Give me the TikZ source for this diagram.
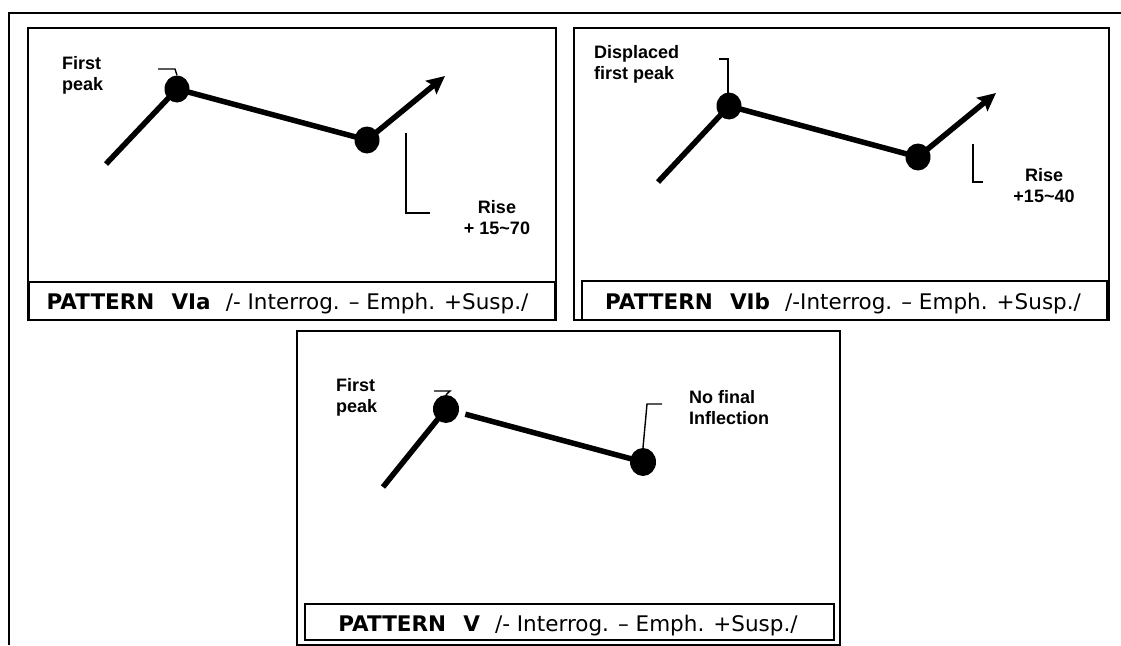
\documentclass[tikz,border=0pt]{standalone}
\usepackage{fontspec}
\setmainfont{DejaVu Sans}
\newfontfamily\labf{Liberation Sans}
\usetikzlibrary{arrows.meta,shapes.geometric}
\tikzset{
  frameline/.style={line width=2pt},
  boxline/.style={line width=1.8pt},
  pitch/.style={line width=5.5pt},
  pitcharrow/.style={line width=5.5pt,-{Stealth[length=18pt,width=17pt,inset=3pt]}},
  bracketline/.style={line width=1.4pt},
  dot/.style={ellipse,fill=black,draw=none,minimum width=25pt,minimum height=27pt,inner sep=0pt},
  lab/.style={font=\labf\bfseries\fontsize{18}{21}\selectfont,inner sep=0pt},
  captext/.style={font=\fontsize{21.5}{24}\selectfont,inner sep=0pt,anchor=base}
}
\newcommand{\capgapA}{\hspace{0.8em}}
\newcommand{\capgapB}{\hspace{0.7em}}
\begin{document}
\begin{tikzpicture}[x=1pt,y=-1pt]
\useasboundingbox[fill=white] (0,0) rectangle (1121,645);
% outer frame
\draw[frameline] (9,645) -- (9,13) -- (1121,13);

% ================= Pattern VIa =================
\draw[boxline] (28,28) rectangle (556,320);
\draw[boxline] (29,282) rectangle (555,320);
\coordinate (a0) at (106,164);
\coordinate (a1) at (177,89);
\coordinate (a2) at (367,140);
\coordinate (a3) at (445,76);
\draw[pitch] (a0) -- (a1) -- (a2);
\draw[pitcharrow] (a2) -- (a3);
\node[dot] (ad1) at (a1) {};
\node[dot] (ad2) at (a2) {};
\draw[bracketline] (158,69) -- (175,69) -- (ad1.north);
\coordinate (ab1) at (406,133);
\coordinate (ab2) at (430,213);
\draw[bracketline] (ab1) |- (ab2);
\node[lab,anchor=west,align=left] (alab1) at (62,75) {First\\peak};
\node[lab,align=center] (alab2) at (497,218) {Rise\\+ 15\textasciitilde70};
\node[captext] (acap) at (287.5,309) {\textbf{PATTERN\capgapA VIa}\capgapB/- Interrog. – Emph. +Susp./};

% ================= Pattern VIb =================
\draw[boxline] (574,28) rectangle (1109,320);
\draw[boxline] (582,281) rectangle (1107,320);
\coordinate (b0) at (658,182);
\coordinate (b1) at (729,106);
\coordinate (b2) at (918,157);
\coordinate (b3) at (996,93);
\draw[pitch] (b0) -- (b1) -- (b2);
\draw[pitcharrow] (b2) -- (b3);
\node[dot] (bd1) at (b1) {};
\node[dot] (bd2) at (b2) {};
\draw[bracketline] (719,59) -- (728,59) -- (728,93);
\coordinate (bb1) at (973,144);
\coordinate (bb2) at (983,182);
\draw[bracketline] (bb1) |- (bb2);
\node[lab,anchor=west,align=left] (blab1) at (594,64) {Displaced\\first peak};
\node[lab,align=center] (blab2) at (1044,186) {Rise\\+15\textasciitilde40};
\node[captext] (bcap) at (843,309) {\textbf{PATTERN\capgapA VIb}\capgapB/-Interrog. – Emph. +Susp./};

% ================= Pattern V =================
\draw[boxline] (297,331) rectangle (840,645);
\draw[boxline] (305,604) rectangle (834,640);
\coordinate (c0) at (383,487);
\coordinate (c1) at (446,409);
\coordinate (c2) at (643,462);
\draw[pitch] (c0) -- (c1);
\draw[pitch,shorten <=20pt] (c1) -- (c2);
\node[dot,minimum width=26pt,minimum height=28pt] (cd1) at (c1) {};
\node[dot,minimum width=26pt,minimum height=28pt] (cd2) at (c2) {};
\draw[bracketline] (434,391) -- (450,391) -- (cd1.north);
\draw[bracketline] (cd2.north) -- (647,404) -- (662,404);
\node[lab,anchor=west,align=left] (clab1) at (336,397) {First\\peak};
\node[lab,anchor=west,align=left] (clab2) at (689,408) {No final\\Inflection};
\node[captext] (ccap) at (568,631) {\textbf{PATTERN\capgapA V}\capgapB/- Interrog. – Emph. +Susp./};
\end{tikzpicture}
\end{document}
